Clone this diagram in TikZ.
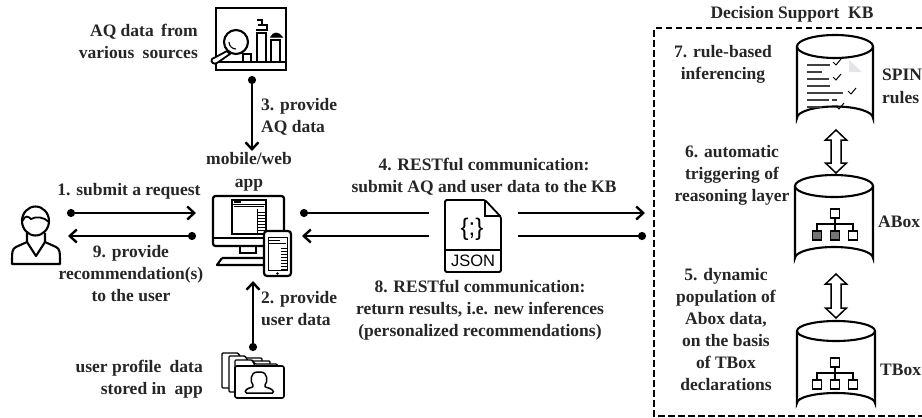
\documentclass[tikz,border=0pt]{standalone}
\usepackage{fontspec}
\setmainfont{Liberation Serif}
\usetikzlibrary{arrows.meta}
\tikzset{
  x=1pt,y=-1pt,
  lbl/.style={font=\bfseries\fontsize{17.5}{22}\selectfont,align=center,inner sep=0pt,text=black!85},
  barb/.style={-{Straight Barb[length=7pt,width=13pt,line width=2.4pt]}},
  conn/.style={line width=2.5pt,{Circle[length=8pt]}-{Straight Barb[length=7pt,width=13pt,line width=2.4pt]}},
  plain/.style={line width=2.5pt,{Circle[length=8pt]}-},
}
\newcommand{\cyl}[5]{%
  \draw[line width=2.1pt,fill=white] (#1,#3) -- (#1,#4) arc[start angle=180,end angle=360,x radius={(#2-#1)/2},y radius=#5] -- (#2,#3);
  \draw[line width=2.1pt,fill=white] ({(#1+#2)/2},#3) ellipse[x radius={(#2-#1)/2},y radius=#5];
}
\newcommand{\tree}[4]{%
  \draw[line width=1.9pt] (#1,#2+9) -- (#1,#2+15) (#1-18,#2+22) -- (#1-18,#2+15) -- (#1+18,#2+15) -- (#1+18,#2+22) (#1,#2+15) -- (#1,#2+22);
  \draw[line width=1.9pt,fill=white] (#1-4.5,#2) rectangle (#1+4.5,#2+9);
  \draw[line width=1.9pt,fill=#3] (#1-22.5,#2+22) rectangle (#1-13.5,#2+31);
  \draw[line width=1.9pt,fill=#3] (#1-4.5,#2+22) rectangle (#1+4.5,#2+31);
  \draw[line width=1.9pt,fill=#4] (#1+13.5,#2+22) rectangle (#1+22.5,#2+31);
}
\newcommand{\dblarrow}[3]{%
  \draw[line width=1.5pt,fill=white,line join=miter] (#1,#2) -- (#1+10.5,#2+10) -- (#1+5,#2+10) -- (#1+5,#3-10) -- (#1+10.5,#3-10) -- (#1,#3) -- (#1-10.5,#3-10) -- (#1-5,#3-10) -- (#1-5,#2+10) -- (#1-10.5,#2+10) -- cycle;
}
\begin{document}
\begin{tikzpicture}
\useasboundingbox (0,0) rectangle (922,418);
\fill[white] (0,0) rectangle (922,418);

% --- Knowledge base frame
\draw[line width=1.8pt,dash pattern=on 6.5pt off 3.5pt] (922,28) -- (654,28) -- (654,416) -- (922,416);
\node[lbl] (kbtitle) at (792,14) {Decision Support\ \ KB};

% --- Cylinders
\cyl{797}{873}{46.5}{118}{11.5}
\cyl{795}{873}{186}{258}{11}
\cyl{797}{875}{331}{403}{10}

% rules icon
\fill[blue!10!black!10] (849,60) -- (862,72) -- (849,72) -- cycle;
\foreach \ya/\xb in {65/830,72/822,79/829,86/830,93/843,100/829,107/822}{
  \draw[line width=1.8pt,black!75] (807,\ya) -- (\xb,\ya);}
\draw[line width=1.8pt,black!75] (832,100) -- (837,100);
\foreach \xc/\yc in {833/62,833/77,848/91,836/106}{
  \draw[line width=1pt] (\xc,\yc) -- (\xc+3,\yc+3) -- (\xc+8,\yc-3);}

\tree{835}{209}{black!55}{white}
\tree{835}{358}{white}{white}

% --- Double arrows
\dblarrow{836}{130}{173}
\dblarrow{836}{274}{318}

% --- KB labels
\node[lbl] (l7) at (723,64) {7. rule-based\\inferencing};
\node[lbl] (l6) at (732,175) {6. automatic\\triggering of\\reasoning layer};
\node[lbl] (l5) at (726,330) {5. dynamic\\population of\\Abox data,\\on the basis\\of TBox\\declarations};
\node[lbl,anchor=west] (spinl) at (882,75) {SPIN};
\node[lbl,anchor=west] (rulesl) at (882,98) {rules};
\node[lbl,anchor=west] (aboxl) at (878,222) {ABox};
\node[lbl,anchor=west] (tboxl) at (880,370) {TBox};

% --- Person
\draw[line width=2.1pt] (35.5,221) ellipse[x radius=13.5,y radius=14.5];
\draw[line width=1.8pt] (22.5,221) .. controls (25,215) and (28,216) .. (31,219) .. controls (36,216) and (44,217) .. (49,222);
\draw[line width=2.1pt,line join=round] (27,233) -- (27,242) -- (16,247) .. controls (12,249) and (12,252) .. (12,264) -- (60,264) .. controls (60,252) and (60,249) .. (56,247) -- (45,242) -- (45,233);
\draw[line width=2.1pt,line join=round] (27,242) -- (36,256) -- (45,242);

% --- Monitor + phone
\draw[line width=2.2pt,rounded corners=2.5pt] (264,246) -- (213,246) -- (213,196) -- (284,196) -- (284,231);
\draw[line width=2pt] (213,238) -- (264,238);
\draw[line width=1.6pt] (240,247) -- (240,253) -- (256,253) -- (256,247);
\draw[line width=2.2pt,line join=round] (222,258) -- (264,258) (222,258) -- (217,265) -- (264,265);
\draw[line width=1.2pt] (232,200) rectangle (266,234);
\draw[line width=1pt] (232,204) -- (266,204);
\fill (234,201) rectangle (241,203);
\draw[line width=0.8pt] (234,206.5) -- (264,206.5);
\foreach \y in {212,215,...,233}{\draw[line width=0.8pt] (257,\y) -- (266,\y);}
\draw[line width=0.9pt] (257,209) -- (257,234);
% phone
\draw[line width=2.2pt,rounded corners=3pt,fill=white] (264,231) rectangle (291,276);
\draw[line width=0.9pt] (268,237) rectangle (287,270);
\draw[line width=0.6pt] (269,240) -- (280,240) (269,243) -- (286,243);
\foreach \y in {248,251,...,269}{\draw[line width=0.7pt] (281,\y) -- (287,\y);}
\fill (277.5,273.5) circle[radius=1.3pt];

% --- AQ chart
\draw[line width=2.1pt] (216,8) rectangle (286,70);
\fill (216,61) rectangle (286,63);
\draw[line width=1.6pt] (257,61) -- (257,33) -- (266,33) -- (266,61);
\draw[line width=1.6pt] (271,61) -- (271,40) -- (280,40) -- (280,61);
\draw[line width=1.6pt] (243,61) -- (243,54) -- (251,54) -- (251,61);
\draw[line width=1.3pt] (257,20) -- (262,20) -- (262,24) (256,30) -- (267,30) -- (267,25) -- (258,25);
\draw[line width=1.2pt,fill=black] (271,37) .. controls (273,32) and (279,32) .. (282,37) -- cycle;
\draw[line width=2.1pt,fill=white] (236,42) circle[radius=12];
\draw[line width=1.1pt] (229,42) arc[start angle=180,end angle=90,radius=7];
\draw[line width=1.8pt,fill=white,line join=round] (227,51) -- (230,54) -- (217,63) .. controls (214,65) and (210,62) .. (212,59) -- cycle;

% --- Folders
\draw[line width=1.4pt,rounded corners=1pt,fill=white] (222,388) -- (222,353) -- (238,353) -- (241,358) -- (262,358) -- (262,388) -- cycle;
\draw[line width=1.4pt,rounded corners=1pt,fill=white] (229,392) -- (229,356) -- (245,356) -- (248,361) -- (270,361) -- (270,392) -- cycle;
\draw[line width=1.4pt,rounded corners=1pt,fill=white] (235,397) -- (235,360) -- (252,360) -- (255,364) -- (277,364) -- (277,397) -- cycle;
\draw[line width=1.6pt,rounded corners=2pt,fill=white] (235,398) -- (235,366) -- (284,366) -- (284,398) -- cycle;
\draw[line width=1.2pt] (252,360) -- (255,366) (277,364) -- (277,366);
\draw[line width=1.5pt,rounded corners=1.5pt] (245,393) .. controls (246,388) and (251,388) .. (254,386) .. controls (250,382) and (250,372) .. (259,372) .. controls (268,372) and (268,382) .. (264,386) .. controls (267,388) and (272,388) .. (274,393) -- cycle;

% --- JSON file
\draw[line width=1.8pt,rounded corners=1.5pt] (445,200) -- (485,200) -- (501,217) -- (501,272) -- (445,272) -- cycle;
\draw[line width=1.5pt] (485,200) -- (485,216) -- (501,216);
\draw[line width=1.5pt] (445,250) -- (501,250);
\node[inner sep=0pt,font=\fontspec{Liberation Sans}\fontsize{24}{24}\selectfont] (brace) at (472,229) {\{;\}};
\node[inner sep=0pt,font=\fontspec{Liberation Sans}\fontsize{16.5}{16.5}\selectfont] (jsontxt) at (473,261) {JSON};

% --- Connectors
\coordinate (a1s) at (67,213); \coordinate (a1e) at (196,213);
\coordinate (a9s) at (196,236); \coordinate (a9e) at (68,236);
\draw[conn] (a1s) -- (a1e);
\draw[conn] (a9s) -- (a9e);
\coordinate (c3a) at (252,76); \coordinate (c3b) at (252,151);
\draw[conn] (c3a) -- (c3b);
\coordinate (c2a) at (253,351); \coordinate (c2b) at (253,281);
\draw[conn] (c2a) -- (c2b);
\coordinate (c4a) at (300,213); \coordinate (c4b) at (429,213);
\coordinate (c4c) at (518,213); \coordinate (c4d) at (645,213);
\draw[plain] (c4a) -- (c4b);
\draw[line width=2.5pt,barb] (c4c) -- (c4d);
\coordinate (c8a) at (646,236); \coordinate (c8b) at (518,236);
\coordinate (c8c) at (429,236); \coordinate (c8d) at (302,236);
\draw[plain] (c8a) -- (c8b);
\draw[line width=2.5pt,barb] (c8c) -- (c8d);

% --- Labels
\node[lbl,align=right,anchor=east] (laq) at (198,41) {AQ data\hspace{3pt} from\\various\hspace{4pt} sources};
\node[lbl,align=left,anchor=west] (l3) at (261,117) {3. provide\\AQ data};
\node[lbl] (lapp) at (249,172) {mobile/web\\[1pt]app};
\node[lbl] (l1) at (129,191) {1. submit a request};
\node[lbl] (l9) at (131,274) {9. provide\\recommendation(s)\\to the user};
\node[lbl,align=left,anchor=west] (l2) at (261,309) {2. provide\\user data};
\node[lbl,align=right,anchor=east] (lprof) at (203,379) {user profile\hspace{4pt} data\\stored in\hspace{4pt} app};
\node[lbl] (l4) at (484,177) {4. RESTful communication:\\submit AQ and user data to the KB};
\node[lbl] (l8) at (480,310) {8. RESTful communication:\\return results, i.e. new inferences\\(personalized recommendations)};
\end{tikzpicture}
\end{document}
